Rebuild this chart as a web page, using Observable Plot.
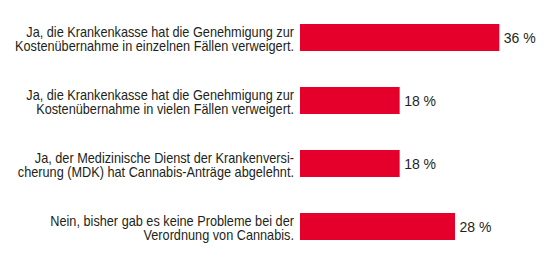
<!DOCTYPE html>
<html>
<head>
<meta charset="utf-8">
<script src="https://cdn.jsdelivr.net/npm/d3@7"></script>
<script src="https://cdn.jsdelivr.net/npm/@observablehq/plot@0.6"></script>
<style>
  html, body { margin: 0; padding: 0; background: #fff; }
  #chart svg { display: block; }
</style>
</head>
<body>
<div id="chart"></div>
<script>
const categories = [
  "Ja, die Krankenkasse hat die Genehmigung zur\nKostenübernahme in einzelnen Fällen verweigert.",
  "Ja, die Krankenkasse hat die Genehmigung zur\nKostenübernahme in vielen Fällen verweigert.",
  "Ja, der Medizinische Dienst der Krankenversi-\ncherung (MDK) hat Cannabis-Anträge abgelehnt.",
  "Nein, bisher gab es keine Probleme bei der\nVerordnung von Cannabis."
];
const values = [36, 18, 18, 28];
const valueLabels = ["36 %", "18 %", "18 %", "28 %"];

const data = categories.map((c, i) => ({category: c, value: values[i], label: valueLabels[i]}));

const font = "'Liberation Sans', Arial, sans-serif";
const barStart = 300;
const labelGap = 6.5;
const labelAnchorX = barStart - labelGap;

const chart = Plot.plot({
  width: 550,
  height: 269,
  marginLeft: 0,
  marginRight: 0,
  marginTop: 0,
  marginBottom: 0,
  style: {fontFamily: font, fontSize: "14px", color: "#231f20", background: "#fff"},
  x: {domain: [0, 36], range: [barStart, 499.3], axis: null},
  y: {domain: categories, range: [10.65, 254.25], paddingInner: 0.564, paddingOuter: 0.2, axis: null},
  marks: [
    Plot.barX(data, {x: "value", y: "category", fill: "#e4002b"}),
    Plot.text(data, {x: 0, y: "category", text: "category", textAnchor: "end", dx: -labelGap, dy: 1.5, lineHeight: 1.02, fontSize: 14, fill: "#231f20"}),
    Plot.text(data, {x: "value", y: "category", text: "label", textAnchor: "start", dx: 4, dy: 1, fontSize: 14, fill: "#231f20"})
  ]
});
document.getElementById("chart").appendChild(chart);

// Emulate the condensed typeface: squeeze the category labels horizontally around their right anchor.
function squeeze(node, anchorX, s) {
  const wrap = document.createElementNS("http://www.w3.org/2000/svg", "g");
  wrap.setAttribute("transform", `translate(${anchorX},0) scale(${s},1) translate(${-anchorX},0)`);
  node.parentNode.insertBefore(wrap, node);
  wrap.appendChild(node);
}
const textGroups = chart.querySelectorAll("g[aria-label='text']");
if (textGroups.length) {
  const node = textGroups[0];
  const firstTspan = node.querySelector("tspan") || node.querySelector("text");
  let s = 0.86;
  try {
    const len = firstTspan.getComputedTextLength();
    if (len > 0) s = 268 / len;
  } catch (e) {}
  squeeze(node, labelAnchorX, s);
}
</script>
</body>
</html>
